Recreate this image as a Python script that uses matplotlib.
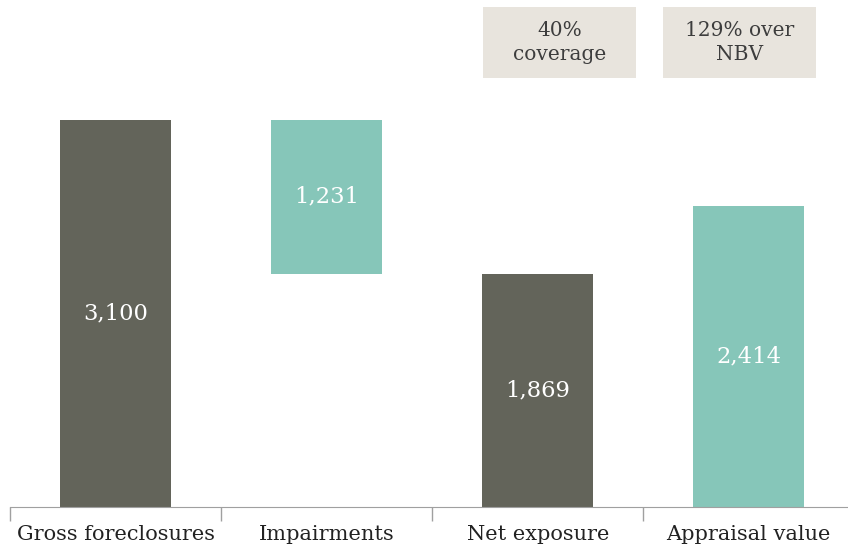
import matplotlib.pyplot as plt
from matplotlib.patches import Rectangle

categories = ["Gross foreclosures", "Impairments", "Net exposure", "Appraisal value"]
values = [3100, 1231, 1869, 2414]
bottoms = [0, 1869, 0, 0]
labels = ["3,100", "1,231", "1,869", "2,414"]
notes = ["40%\ncoverage", "129% over\nNBV"]

dark = '#63645a'
teal = '#86c6b9'
colors = [dark, teal, dark, teal]

plt.rcParams['font.family'] = ['DejaVu Serif']

fig = plt.figure(figsize=(8.48, 5.48), dpi=100)
ax = fig.add_axes([10 / 848, 41 / 548, 838 / 848, 507 / 548])

x = range(len(categories))
ax.bar(x, values, bottom=bottoms, width=0.526, color=colors)

for i in x:
    ax.text(i, bottoms[i] + values[i] / 2, labels[i], ha='center', va='center',
            color='white', fontsize=16.3)

# annotation boxes over the last two bars
for cx, note in zip([2.104, 2.957], notes):
    ax.add_patch(Rectangle((cx - 0.3625, 3437), 0.725, 569, facecolor='#e8e4dd',
                           edgecolor='none', clip_on=False))
    ax.text(cx, 3721, note, ha='center', va='center', color='#3d3d3d',
            fontsize=14.5, linespacing=1.3)

ax.set_xlim(-0.5, 3.47)
ax.set_ylim(0, 4062)
for s in ['top', 'right', 'left']:
    ax.spines[s].set_visible(False)
ax.spines['bottom'].set_color('#a0a0a0')
ax.set_yticks([])

ax.set_xticks([-0.5, 0.5, 1.5, 2.5])
ax.set_xticklabels([])
ax.tick_params(axis='x', length=10, color='#a0a0a0', width=1)
ax.set_xticks(list(x), minor=True)
ax.set_xticklabels(categories, minor=True, fontsize=15, color='#222222')
ax.tick_params(axis='x', which='minor', length=0, pad=13)

fig.savefig('out.png', dpi=100)
